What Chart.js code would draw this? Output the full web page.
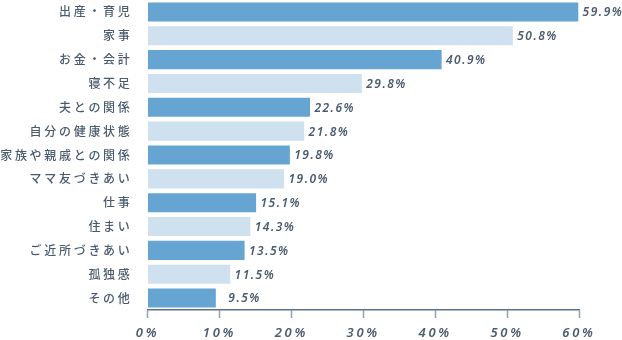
<!DOCTYPE html>
<html>
<head>
<meta charset="utf-8">
<script src="https://cdn.jsdelivr.net/npm/chart.js@4"></script>
<style>
  html, body { margin: 0; padding: 0; background: #fff; }
  #wrap { width: 622px; height: 340px; }
</style>
</head>
<body>
<div id="wrap"><canvas id="barChart"></canvas></div>
<script>
var labels = ['出産・育児', '家事', 'お金・会計', '寝不足', '夫との関係', '自分の健康状態',
  '家族や親戚との関係', 'ママ友づきあい', '仕事', '住まい', 'ご近所づきあい', '孤独感', 'その他'];
var values = [59.9, 50.8, 40.9, 29.8, 22.6, 21.8, 19.8, 19.0, 15.1, 14.3, 13.5, 11.5, 9.5];
var tickValues = [0, 10, 20, 30, 40, 50, 60];

var darkBlue = '#66a5d1';
var lightBlue = '#cfe0ee';
var textColor = '#4a5b6e';
var axisColor = '#5e7285';

var colors = values.map(function (v, i) { return i % 2 === 0 ? darkBlue : lightBlue; });

// letter spacing for the loose, hand-lettered look of the original
var spacing = {
    id: 'spacing',
    beforeDraw: function (chart) {
        chart.ctx.letterSpacing = '2.7px';
    }
};

var valueLabels = {
    id: 'valueLabels',
    afterDatasetsDraw: function (chart) {
        var ctx = chart.ctx;
        var meta = chart.getDatasetMeta(0);
        ctx.save();
        ctx.letterSpacing = '1.5px';
        ctx.font = 'italic 600 12px "Noto Sans", sans-serif';
        ctx.fillStyle = textColor;
        ctx.textAlign = 'right';
        ctx.textBaseline = 'middle';
        meta.data.forEach(function (bar, i) {
            ctx.fillText(values[i].toFixed(1) + '%', bar.x + 45, bar.y + 1);
        });
        ctx.restore();
    }
};

var ctx = document.getElementById('barChart').getContext('2d');

var myChart = new Chart(ctx, {
    type: 'bar',
    data: {
        labels: labels,
        datasets: [{
            data: values,
            backgroundColor: colors,
            borderWidth: 0,
            barPercentage: 0.8,
            categoryPercentage: 1.0
        }]
    },
    options: {
        indexAxis: 'y',
        responsive: true,
        maintainAspectRatio: false,
        animation: false,
        layout: { padding: { top: 0, right: 43, bottom: 0, left: 0 } },
        plugins: {
            legend: { display: false },
            tooltip: { enabled: false }
        },
        scales: {
            x: {
                min: 0,
                max: 60,
                afterBuildTicks: function (axis) {
                    axis.ticks = tickValues.map(function (v) { return { value: v }; });
                },
                afterFit: function (axis) {
                    axis.height = 30;
                    axis.paddingLeft = 0;
                    axis.paddingRight = 0;
                },
                grid: {
                    display: true,
                    drawOnChartArea: false,
                    drawTicks: true,
                    tickLength: 8,
                    tickWidth: 1.5,
                    tickColor: '#8fa0b0'
                },
                border: { display: true, color: axisColor, width: 1.5 },
                ticks: {
                    color: textColor,
                    padding: 7,
                    maxRotation: 0,
                    font: { family: '"Noto Sans", sans-serif', size: 13, style: 'italic', weight: '600' },
                    callback: function (v) { return v + '%'; }
                }
            },
            y: {
                afterFit: function (axis) {
                    axis.width = 147.5;
                    axis.paddingTop = 0;
                    axis.paddingBottom = 0;
                },
                grid: { display: false },
                border: { display: false },
                ticks: {
                    color: textColor,
                    padding: 7,
                    font: { family: '"Noto Sans CJK JP", sans-serif', size: 12, weight: '500' }
                }
            }
        }
    },
    plugins: [spacing, valueLabels]
});
</script>
</body>
</html>
